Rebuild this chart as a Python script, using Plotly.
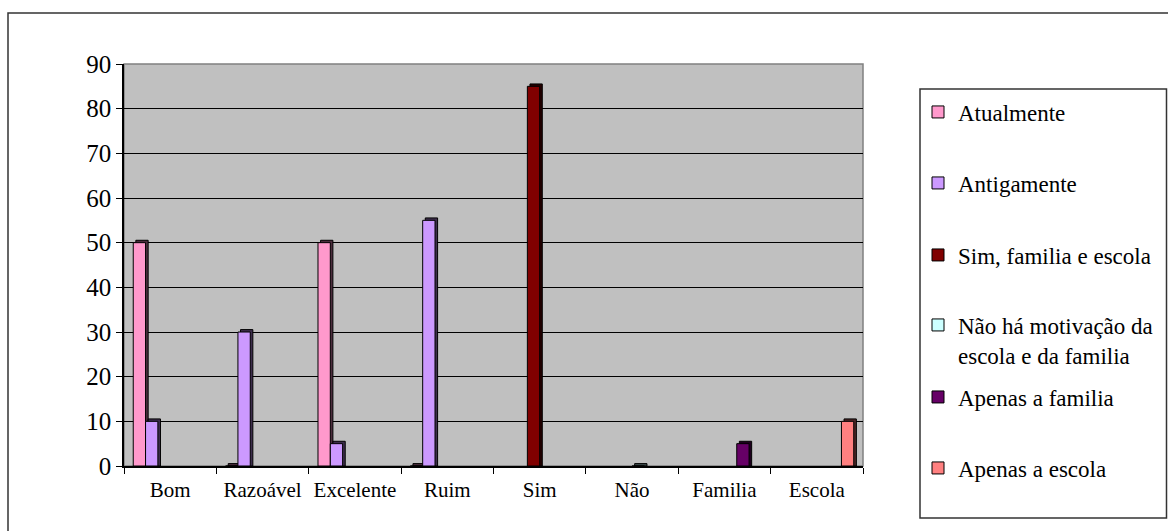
import plotly.graph_objects as go

# ---- data -------------------------------------------------------------
categories = ["Bom", "Razoável", "Excelente", "Ruim", "Sim", "Não", "Familia", "Escola"]

atualmente = [50, 0, 50, 0, None, None, None, None]
antigamente = [10, 30, 5, 55, None, None, None, None]
sim_familia_escola = [None, None, None, None, 85, None, None, None]
nao_ha_motivacao = [None, None, None, None, None, 0, None, None]
apenas_familia = [None, None, None, None, None, None, 5, None]
apenas_escola = [None, None, None, None, None, None, None, 10]

series_names = [
    "Atualmente",
    "Antigamente",
    "Sim, familia e escola",
    "Não há motivação da<br>escola e da familia",
    "Apenas a familia",
    "Apenas a escola",
]
series_values = [atualmente, antigamente, sim_familia_escola,
                 nao_ha_motivacao, apenas_familia, apenas_escola]
series_colors = ["#FF99CC", "#CC99FF", "#800000", "#CCFFFF", "#660066", "#FF8080"]

y_ticks = [0, 10, 20, 30, 40, 50, 60, 70, 80, 90]

# ---- geometry -----------------------------------------------------------
W, H = 1168, 531
ML, MR, MT, MB = 124, 305, 64, 65
PW, PH = W - ML - MR, H - MT - MB
cat_px = PW / len(categories)
slot = 0.8 / len(series_names)
depth_dx = 2.6 / cat_px          # side face of the pseudo-3D columns
depth_dy = 2.4 / (PH / 90.0)     # top face of the pseudo-3D columns

SERIF = "Liberation Serif, Times New Roman, serif"


def darker(hex_color, f=0.3):
    r, g, b = (int(hex_color[i:i + 2], 16) for i in (1, 3, 5))
    return "rgb(%d,%d,%d)" % (r * f, g * f, b * f)


def px_x(px):
    return (px - ML) / PW


def px_y(py):
    return (H - MB - py) / PH


fig = go.Figure()

legend_text_y = [112, 183, 255, 340, 397, 468]
for i, (name, vals, col) in enumerate(zip(series_names, series_values, series_colors)):
    off = -0.4 + i * slot
    depth_vals = [None if v is None else v + depth_dy for v in vals]
    fig.add_trace(go.Bar(
        x=categories, y=depth_vals, width=slot, offset=off + depth_dx,
        marker=dict(color=darker(col), line=dict(color="#000000", width=1)),
        showlegend=False, hoverinfo="skip",
    ))
    lg = "legend" if i == 0 else "legend%d" % (i + 1)
    fig.add_trace(go.Bar(
        x=categories, y=vals, width=slot, offset=off, name=name,
        marker=dict(color=col, line=dict(color="#000000", width=1)),
        legend=lg,
    ))

legend_font = dict(family=SERIF, size=23, color="#000000")
layout_legends = {}
for i, ty in enumerate(legend_text_y):
    key = "legend" if i == 0 else "legend%d" % (i + 1)
    layout_legends[key] = dict(
        xref="container", yref="container",
        x=918 / W, y=1 - ty / H, xanchor="left", yanchor="middle",
        bgcolor="rgba(0,0,0,0)", borderwidth=0, font=legend_font,
        itemwidth=30, valign="top",
    )

fig.update_layout(
    width=W, height=H,
    margin=dict(l=ML, r=MR, t=MT, b=MB, pad=0),
    paper_bgcolor="#FFFFFF",
    plot_bgcolor="#C0C0C0",
    barmode="overlay",
    font=dict(family=SERIF, color="#000000"),
    **layout_legends,
)

fig.update_xaxes(
    type="category", categoryorder="array", categoryarray=categories,
    range=[-0.5, len(categories) - 0.5],
    showline=True, linecolor="#000000", linewidth=1.5,
    ticks="outside", tickson="boundaries", ticklen=6, tickcolor="#000000",
    tickfont=dict(family=SERIF, size=21, color="#000000"),
    ticklabelstandoff=4,
    showgrid=False, zeroline=False,
)
fig.update_yaxes(
    range=[0, 90], tickvals=y_ticks,
    showline=True, linecolor="#000000", linewidth=1.5,
    ticks="outside", ticklen=6, tickcolor="#000000",
    tickfont=dict(family=SERIF, size=25, color="#000000"),
    showgrid=True, gridcolor="#000000", gridwidth=1.2, zeroline=False,
)

shapes = [
    # plot area frame (top / right edges in grey)
    dict(type="rect", xref="paper", yref="paper", x0=0, x1=1, y0=0, y1=1,
         line=dict(color="#808080", width=1.5), layer="below"),
    # chart frame
    dict(type="rect", xref="paper", yref="paper",
         x0=px_x(8), x1=px_x(1180), y0=px_y(545), y1=px_y(13),
         line=dict(color="#333333", width=1.5)),
    # legend frame
    dict(type="rect", xref="paper", yref="paper",
         x0=px_x(920), x1=px_x(1166.5), y0=px_y(518), y1=px_y(89),
         line=dict(color="#333333", width=1.5)),
]
fig.update_layout(shapes=shapes)

fig.write_html("out.html")
